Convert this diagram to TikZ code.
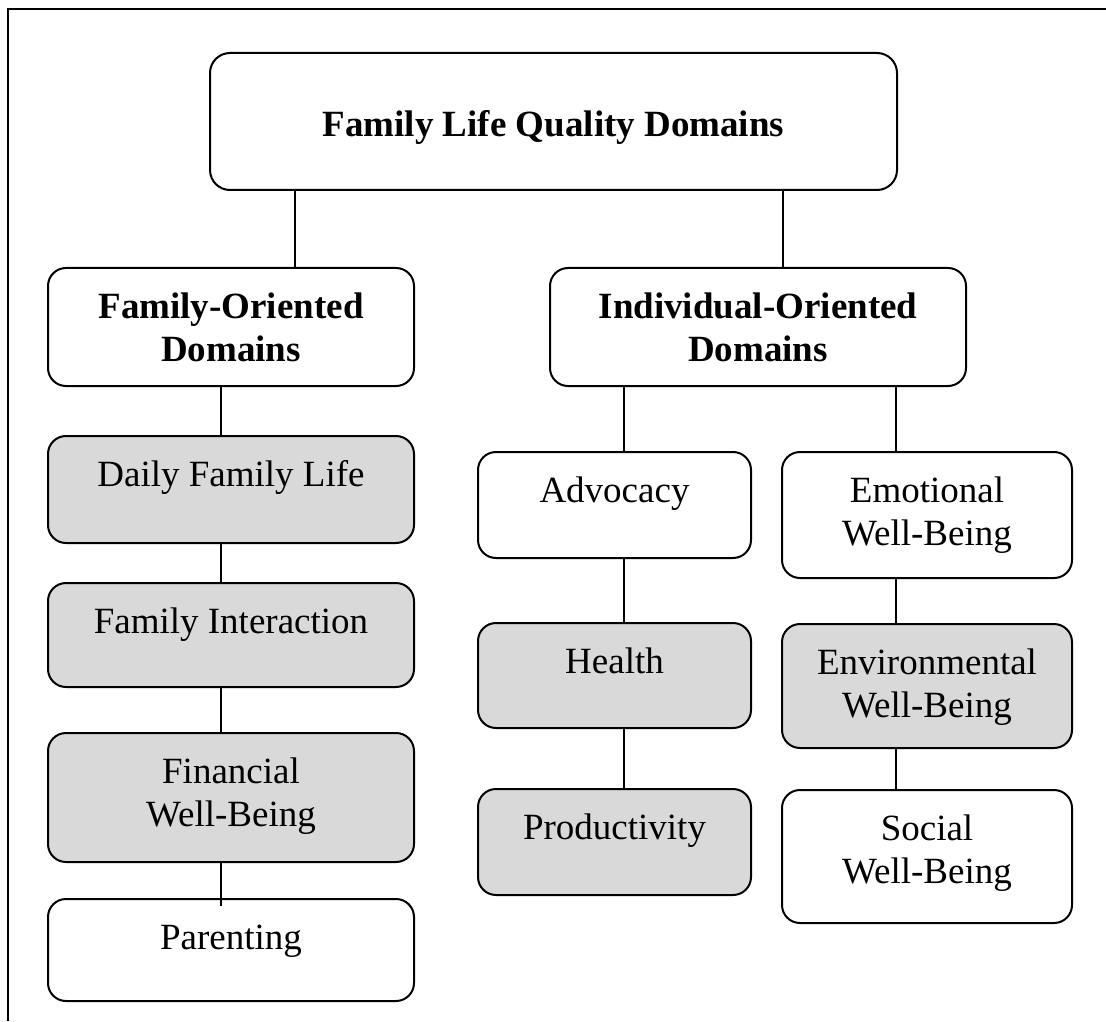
\documentclass[tikz,border=0pt]{standalone}
\usepackage{fontspec}
\setmainfont{Liberation Serif}
\usetikzlibrary{positioning}
\definecolor{boxgrey}{RGB}{217,217,217}
\tikzset{
	dom/.style = {draw, line width=1pt, rounded corners=9pt, inner sep=0pt, align=flush center, text height=25pt, font=\fontsize{18.5}{21.5}\selectfont},
	head/.style = {dom, font=\fontsize{18.5}{21.5}\selectfont\bfseries},
	greyfill/.style = {fill=boxgrey},
	link/.style = {line width=0.7pt},
	leftcol/.style = {text width=183pt},
	midcol/.style = {text width=136.5pt},
	rightcol/.style = {text width=145pt}
}
\begin{document}
\begin{tikzpicture}[x=0.5pt, y=-0.5pt]
				\useasboundingbox (0,0) rectangle (1106,1021);
				\draw[line width=1pt] (8,1021) -- (8,9) -- (1106,9); %Frame
				
				%Top level and the two groups
				\node[head, text width=343.5pt, text height=42pt, text depth=26.5pt, rounded corners=10pt, anchor=north] (top) at (553.5,52) {Family Life Quality Domains};
				\node[head, leftcol, text depth=34pt, anchor=north] (fam) at (231,267) {Family-Oriented\\Domains};
				\node[head, text width=208pt, text depth=34pt, anchor=north] (ind) at (758,267) {Individual-Oriented\\Domains};
				
				%Family-oriented column
				\node[dom, greyfill, leftcol, text depth=28.5pt, below=24pt of fam] (daily) {Daily Family Life};
				\node[dom, greyfill, leftcol, text depth=27pt, below=19pt of daily] (inter) {Family Interaction};
				\node[dom, greyfill, leftcol, text depth=39.5pt, below=22pt of inter] (fin) {Financial\\Well-Being};
				\node[dom, fill=white, leftcol, text depth=26pt, below=17.5pt of fin] (par) {Parenting};
				
				%Individual-oriented columns
				\node[dom, fill=white, midcol, text depth=28pt, anchor=north] (adv) at (614.5,451) {Advocacy};
				\node[dom, greyfill, midcol, text depth=27.5pt, below=31.5pt of adv] (health) {Health};
				\node[dom, greyfill, midcol, text depth=28pt, below=29.5pt of health] (prod) {Productivity};
				\node[dom, fill=white, rightcol, text depth=38pt, anchor=north] (emo) at (927,451) {Emotional\\Well-Being};
				\node[dom, greyfill, rightcol, text depth=37pt, below=22pt of emo] (env) {Environmental\\Well-Being};
				\node[dom, fill=white, rightcol, text depth=41.5pt, below=20pt of env] (soc) {Social\\Well-Being};
				
				%Connectors
				\draw[link] (top.south -| 295,0) -- (fam.north -| 295,0); %top -> family
				\draw[link] (top.south -| 783,0) -- (ind.north -| 783,0); %top -> individual
				\draw[link] (fam.south -| 221,0) -- (daily.north -| 221,0);
				\draw[link] (daily.south -| 221,0) -- (inter.north -| 221,0);
				\draw[link] (inter.south -| 221,0) -- (fin.north -| 221,0);
				\draw[link] (fin.south -| 221,0) -- ([yshift=-4pt]par.north -| 221,0);
				\draw[link] (ind.south -| 624,0) -- (adv.north -| 624,0);
				\draw[link] (adv.south -| 624,0) -- (health.north -| 624,0);
				\draw[link] (health.south -| 624,0) -- (prod.north -| 624,0);
				\draw[link] (ind.south -| 896,0) -- (emo.north -| 896,0);
				\draw[link] (emo.south -| 896,0) -- (env.north -| 896,0);
				\draw[link] (env.south -| 896,0) -- (soc.north -| 896,0);
\end{tikzpicture}
\end{document}
